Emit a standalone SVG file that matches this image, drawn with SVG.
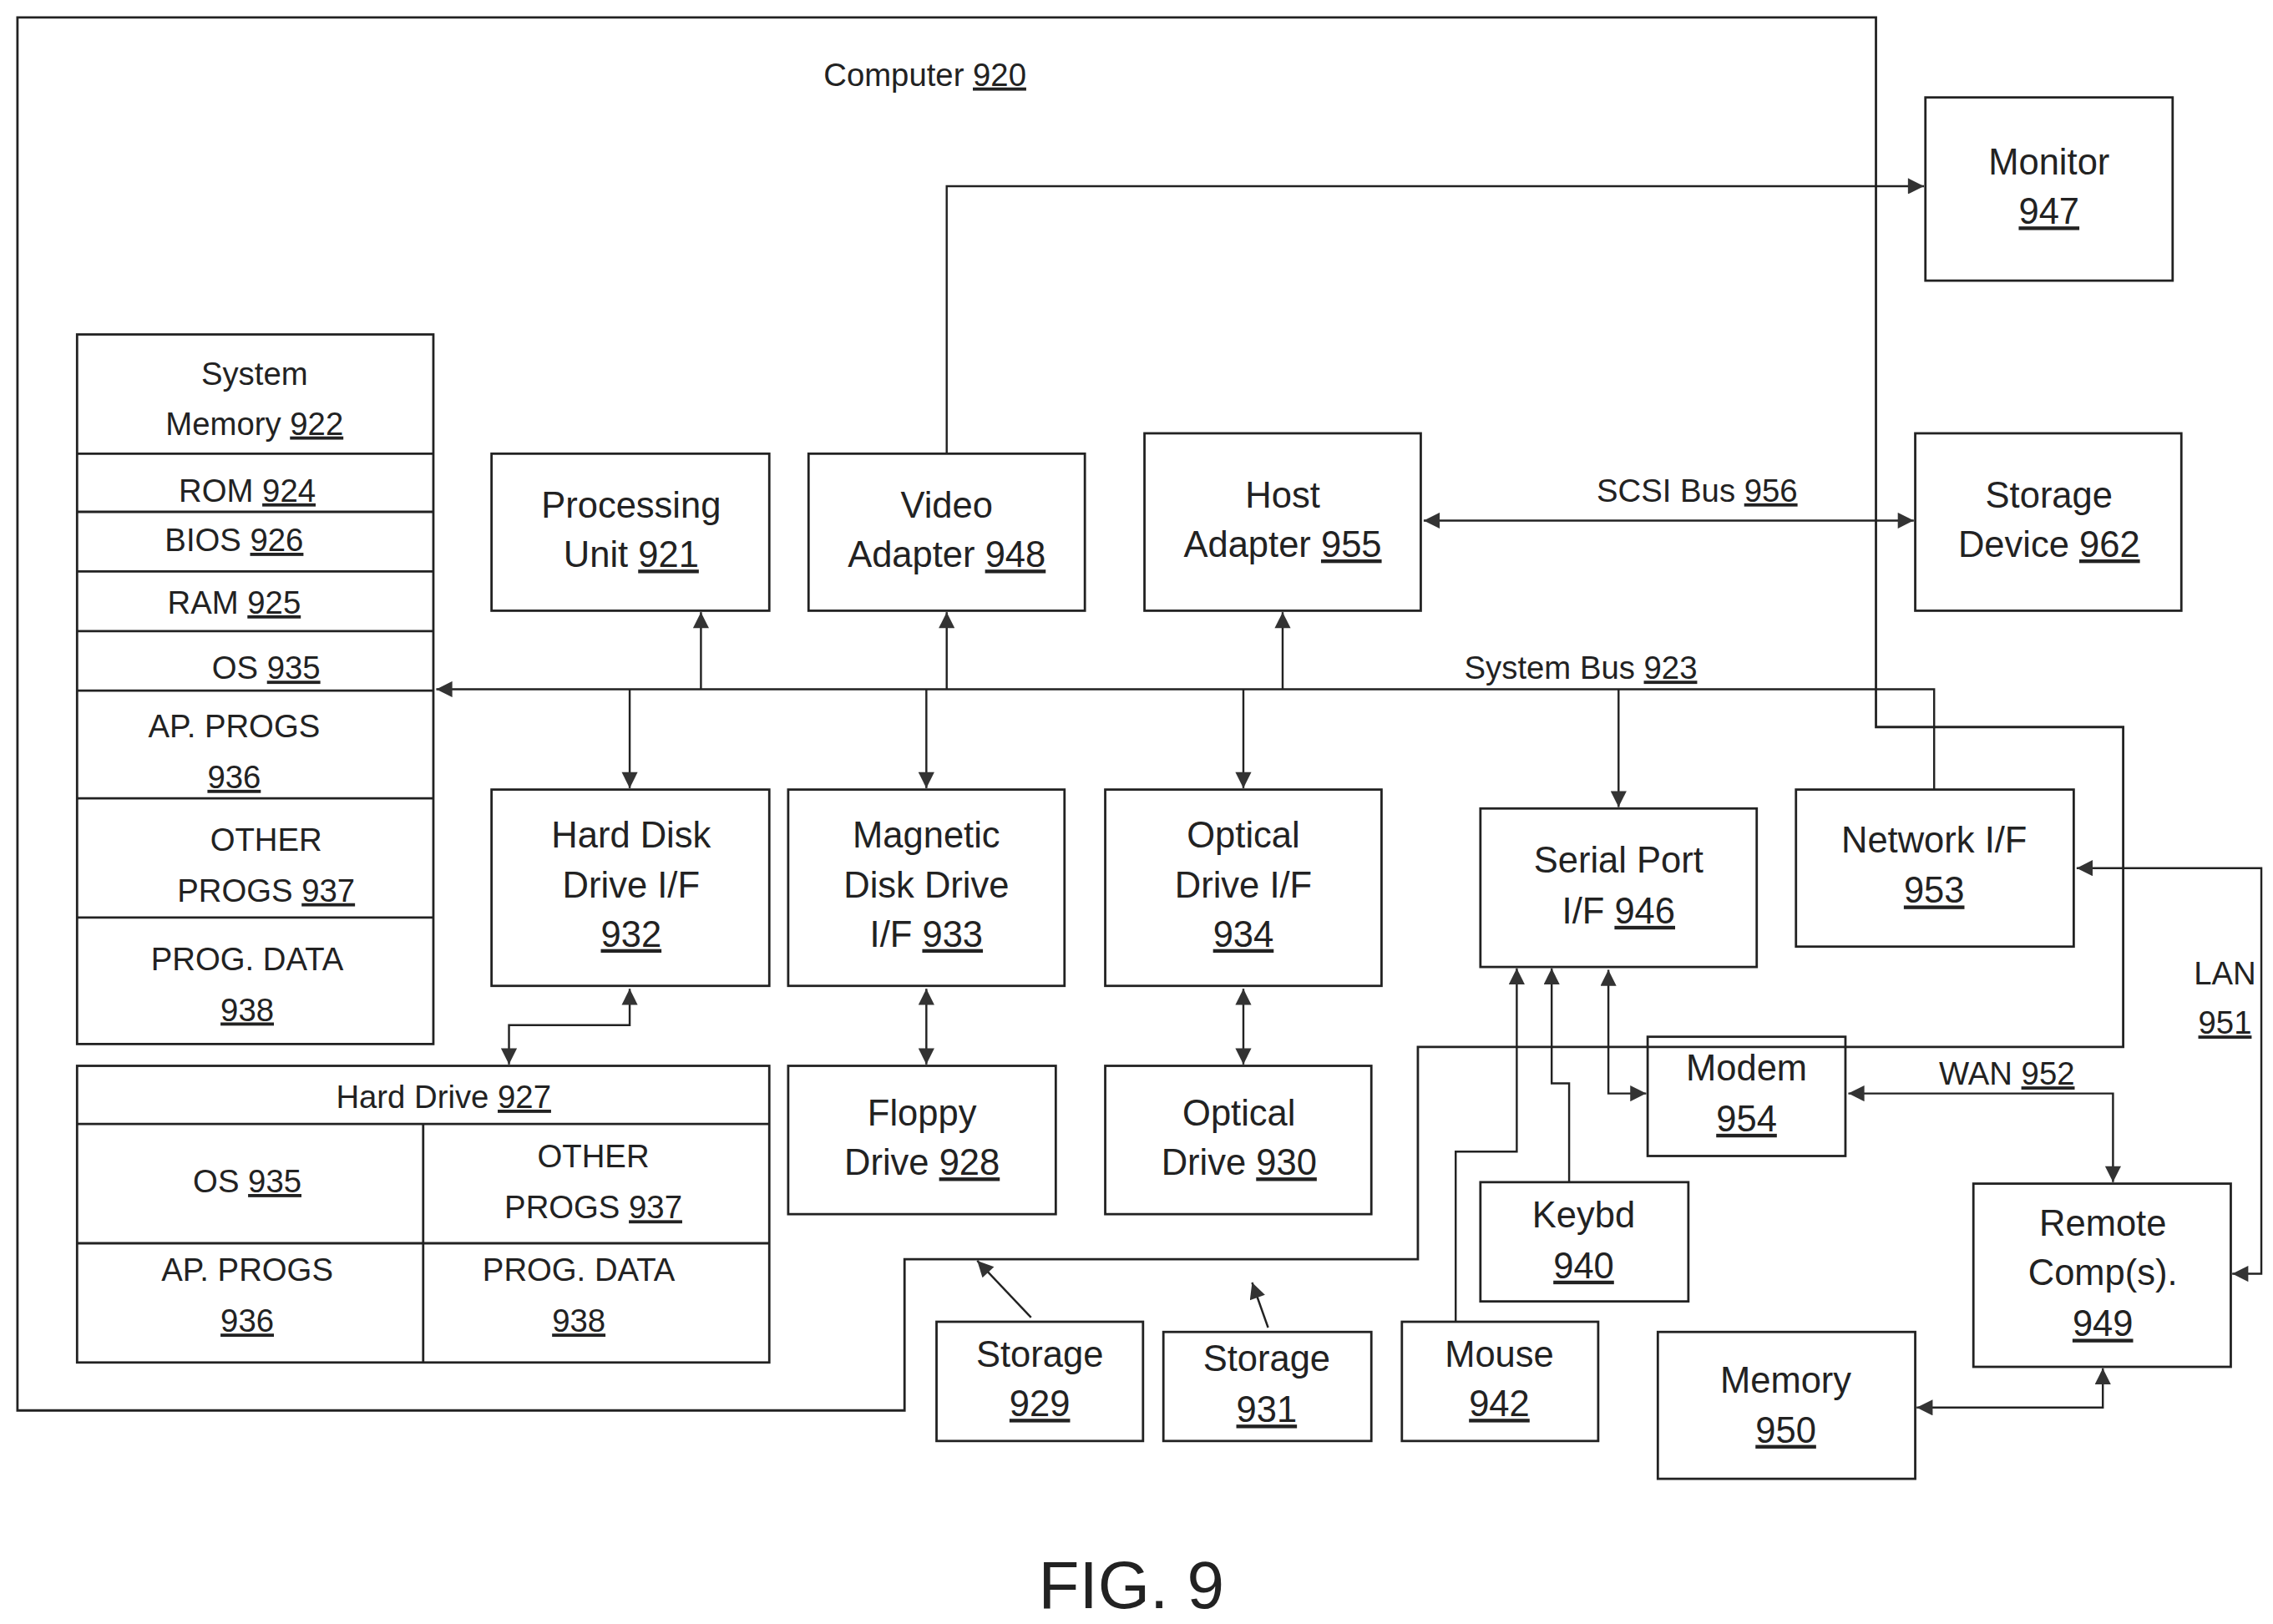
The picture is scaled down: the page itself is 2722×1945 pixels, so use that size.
<svg xmlns="http://www.w3.org/2000/svg" width="2722" height="1945" viewBox="0 0 2722 1945">
<style>
.b{fill:none;stroke:#222;stroke-width:1.6}
.l{fill:none;stroke:#222;stroke-width:1.4}
text{font-family:"Liberation Sans",Arial,sans-serif;fill:#222;text-anchor:middle}
.t{font-size:25px}
.s{font-size:22px}
.u{text-decoration:underline}
</style>
<defs>
<marker id="a" viewBox="0 0 10 10" refX="10" refY="5" markerWidth="12" markerHeight="11" markerUnits="userSpaceOnUse" orient="auto-start-reverse"><path d="M0,0L10,5L0,10z" fill="#333"/></marker>
</defs>
<rect width="2722" height="1945" fill="#fff"/>
<g transform="scale(1.7415)">
<g id="computer">
<path class="b" d="M12,12H1290V500H1460V720H975V866H622V970H12Z"/>
<text class="s" x="636" y="59">Computer <tspan class="u">920</tspan></text>
</g>
<g id="monitor"><rect class="b" x="1324" y="67" width="170" height="126"/>
<text class="t" x="1409" y="120">Monitor</text><text class="t u" x="1409" y="154">947</text></g>
<g id="sysmem">
<rect class="b" x="53" y="230" width="245" height="488"/>
<path class="b" d="M53,312H298M53,352H298M53,393H298M53,434H298M53,475H298M53,549H298M53,631H298"/>
<text class="s" x="175" y="265">System</text><text class="s" x="175" y="299">Memory <tspan class="u">922</tspan></text>
<text class="s" x="170" y="345">ROM <tspan class="u">924</tspan></text>
<text class="s" x="161" y="379">BIOS <tspan class="u">926</tspan></text>
<text class="s" x="161" y="422">RAM <tspan class="u">925</tspan></text>
<text class="s" x="183" y="467">OS <tspan class="u">935</tspan></text>
<text class="s" x="161" y="507">AP. PROGS</text><text class="s u" x="161" y="542">936</text>
<text class="s" x="183" y="585">OTHER</text><text class="s" x="183" y="620">PROGS <tspan class="u">937</tspan></text>
<text class="s" x="170" y="667">PROG. DATA</text><text class="s u" x="170" y="702">938</text>
</g>
<g id="pu"><rect class="b" x="338" y="312" width="191" height="108"/>
<text class="t" x="434" y="356">Processing</text><text class="t" x="434" y="390">Unit <tspan class="u">921</tspan></text></g>
<g id="video"><rect class="b" x="556" y="312" width="190" height="108"/>
<text class="t" x="651" y="356">Video</text><text class="t" x="651" y="390">Adapter <tspan class="u">948</tspan></text></g>
<g id="host"><rect class="b" x="787" y="298" width="190" height="122"/>
<text class="t" x="882" y="349">Host</text><text class="t" x="882" y="383">Adapter <tspan class="u">955</tspan></text></g>
<g id="storage962"><rect class="b" x="1317" y="298" width="183" height="122"/>
<text class="t" x="1409" y="349">Storage</text><text class="t" x="1409" y="383">Device <tspan class="u">962</tspan></text></g>
<g id="hddif"><rect class="b" x="338" y="543" width="191" height="135"/>
<text class="t" x="434" y="583">Hard Disk</text><text class="t" x="434" y="617">Drive I/F</text><text class="t u" x="434" y="651">932</text></g>
<g id="mddif"><rect class="b" x="542" y="543" width="190" height="135"/>
<text class="t" x="637" y="583">Magnetic</text><text class="t" x="637" y="617">Disk Drive</text><text class="t" x="637" y="651">I/F <tspan class="u">933</tspan></text></g>
<g id="odif"><rect class="b" x="760" y="543" width="190" height="135"/>
<text class="t" x="855" y="583">Optical</text><text class="t" x="855" y="617">Drive I/F</text><text class="t u" x="855" y="651">934</text></g>
<g id="serial"><rect class="b" x="1018" y="556" width="190" height="109"/>
<text class="t" x="1113" y="600">Serial Port</text><text class="t" x="1113" y="635">I/F <tspan class="u">946</tspan></text></g>
<g id="netif"><rect class="b" x="1235" y="543" width="191" height="108"/>
<text class="t" x="1330" y="586">Network I/F</text><text class="t u" x="1330" y="621">953</text></g>
<g id="harddrive">
<rect class="b" x="53" y="733" width="476" height="204"/>
<path class="b" d="M53,773H529M53,855H529M291,773V937"/>
<text class="s" x="305" y="762">Hard Drive <tspan class="u">927</tspan></text>
<text class="s" x="170" y="820">OS <tspan class="u">935</tspan></text>
<text class="s" x="408" y="803">OTHER</text><text class="s" x="408" y="838">PROGS <tspan class="u">937</tspan></text>
<text class="s" x="170" y="881">AP. PROGS</text><text class="s u" x="170" y="916">936</text>
<text class="s" x="398" y="881">PROG. DATA</text><text class="s u" x="398" y="916">938</text>
</g>
<g id="floppy"><rect class="b" x="542" y="733" width="184" height="102"/>
<text class="t" x="634" y="774">Floppy</text><text class="t" x="634" y="808">Drive <tspan class="u">928</tspan></text></g>
<g id="optical"><rect class="b" x="760" y="733" width="183" height="102"/>
<text class="t" x="852" y="774">Optical</text><text class="t" x="852" y="808">Drive <tspan class="u">930</tspan></text></g>
<g id="modem"><rect class="b" x="1133" y="713" width="136" height="82"/>
<text class="t" x="1201" y="743">Modem</text><text class="t u" x="1201" y="778">954</text></g>
<g id="keybd"><rect class="b" x="1018" y="813" width="143" height="82"/>
<text class="t" x="1089" y="844">Keybd</text><text class="t u" x="1089" y="879">940</text></g>
<g id="mouse"><rect class="b" x="964" y="909" width="135" height="82"/>
<text class="t" x="1031" y="940">Mouse</text><text class="t u" x="1031" y="974">942</text></g>
<g id="storage929"><rect class="b" x="644" y="909" width="142" height="82"/>
<text class="t" x="715" y="940">Storage</text><text class="t u" x="715" y="974">929</text></g>
<g id="storage931"><rect class="b" x="800" y="916" width="143" height="75"/>
<text class="t" x="871" y="943">Storage</text><text class="t u" x="871" y="978">931</text></g>
<g id="memory950"><rect class="b" x="1140" y="916" width="177" height="101"/>
<text class="t" x="1228" y="958">Memory</text><text class="t u" x="1228" y="992">950</text></g>
<g id="remote"><rect class="b" x="1357" y="814" width="177" height="126"/>
<text class="t" x="1446" y="850">Remote</text><text class="t" x="1446" y="884">Comp(s).</text><text class="t u" x="1446" y="919">949</text></g>
<g id="connectors">
<path class="l" d="M1330,543V474H300" marker-end="url(#a)"/>
<path class="l" d="M482,474V421" marker-end="url(#a)"/>
<path class="l" d="M651,474V421" marker-end="url(#a)"/>
<path class="l" d="M882,474V421" marker-end="url(#a)"/>
<path class="l" d="M651,312V128H1323" marker-end="url(#a)"/>
<path class="l" d="M433,474V542" marker-end="url(#a)"/>
<path class="l" d="M637,474V542" marker-end="url(#a)"/>
<path class="l" d="M855,474V542" marker-end="url(#a)"/>
<path class="l" d="M1113,474V555" marker-end="url(#a)"/>
<path class="l" d="M979,358H1316" marker-start="url(#a)" marker-end="url(#a)"/>
<path class="l" d="M433,680V705H350V732" marker-start="url(#a)" marker-end="url(#a)"/>
<path class="l" d="M637,680V732" marker-start="url(#a)" marker-end="url(#a)"/>
<path class="l" d="M855,680V732" marker-start="url(#a)" marker-end="url(#a)"/>
<path class="l" d="M1106,667V752H1132" marker-start="url(#a)" marker-end="url(#a)"/>
<path class="l" d="M1079,813V745H1067V666" marker-end="url(#a)"/>
<path class="l" d="M1001,909V792H1043V666" marker-end="url(#a)"/>
<path class="l" d="M709,906L672,867" marker-end="url(#a)"/>
<path class="l" d="M872,913L861,882" marker-end="url(#a)"/>
<path class="l" d="M1271,752H1453V813" marker-start="url(#a)" marker-end="url(#a)"/>
<path class="l" d="M1428,597H1555V876H1535" marker-start="url(#a)" marker-end="url(#a)"/>
<path class="l" d="M1318,968H1446V941" marker-start="url(#a)" marker-end="url(#a)"/>
<text class="s" x="1167" y="345">SCSI Bus <tspan class="u">956</tspan></text>
<text class="s" x="1087" y="467">System Bus <tspan class="u">923</tspan></text>
<text class="s" x="1380" y="746">WAN <tspan class="u">952</tspan></text>
<text class="s" x="1530" y="677">LAN</text><text class="s u" x="1530" y="711">951</text>
</g>
<text x="778" y="1106" style="font-size:46px">FIG. 9</text>
</g>
</svg>
